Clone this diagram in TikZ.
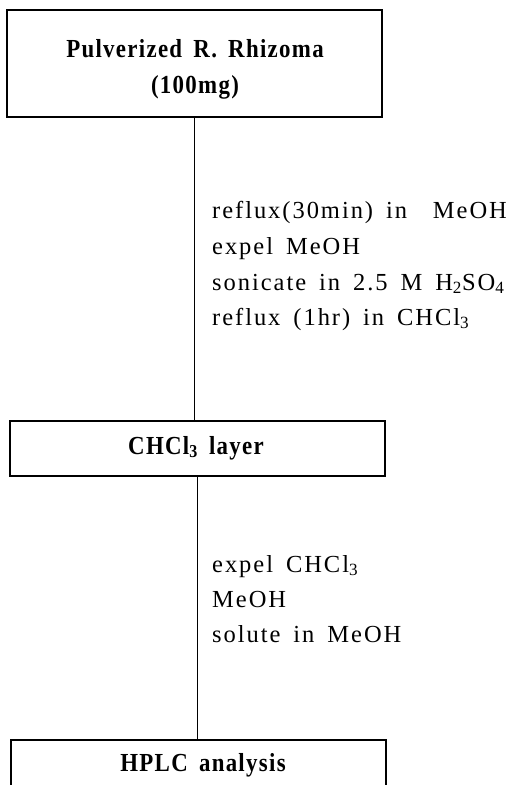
\documentclass[tikz,border=0pt]{standalone}
\usepackage{fontspec}
\setmainfont{Liberation Serif}
\newfontfamily\stepfont[LetterSpace=8,WordSpace=1.6]{Liberation Serif}
\newfontfamily\boxfont[LetterSpace=5,FakeStretch=0.88,WordSpace=1.6]{Liberation Serif Bold}
\begin{document}
\begin{tikzpicture}[x=1pt,y=-1pt,
  box/.style={draw, line width=1.3pt, inner sep=0pt, rectangle},
  boxtext/.style={font=\boxfont\fontsize{26}{30}\selectfont, inner sep=0pt},
  steptext/.style={font=\stepfont\fontsize{24.5}{28}\selectfont, inner sep=0pt, anchor=base west},
  conn/.style={line width=0.9pt}]
\useasboundingbox (0,0) rectangle (512,785);
\clip (0,0) rectangle (512,785);
\fill[white] (0,0) rectangle (512,785);
% boxes
\node[box, minimum width=375pt, minimum height=107pt] (b1) at (194.5,63.5) {};
\node[box, minimum width=375pt, minimum height=55pt] (b2) at (197.5,448.5) {};
\node[box, minimum width=375pt, minimum height=80pt] (b3) at (198.5,780) {};
% box texts
\node[boxtext] (t1a) at (195,49) {Pulverized R. Rhizoma};
\node[boxtext] (t1b) at (195,87) {(100mg)};
\node[boxtext] (t2) at (196,448) {CHCl\textsubscript{3} layer};
\node[boxtext] (t3) at (203,765) {HPLC analysis};
% connectors
\draw[conn] (b1.south) -- (b1.south |- b2.north);
\draw[conn] (197.5,476) -- (197.5,740);
% step texts
\node[steptext] (s1) at (212,218) {reflux(30min) in\ \ MeOH};
\node[steptext] (s2) at (212,254) {expel MeOH};
\node[steptext] (s3) at (212,290) {sonicate in 2.5 M H\textsubscript{2}SO\textsubscript{4}};
\node[steptext] (s4) at (212,325) {reflux (1hr) in CHCl\textsubscript{3}};
\node[steptext] (s5) at (212,572) {expel CHCl\textsubscript{3}};
\node[steptext] (s6) at (212,607) {MeOH};
\node[steptext] (s7) at (212,642) {solute in MeOH};
\end{tikzpicture}
\end{document}
